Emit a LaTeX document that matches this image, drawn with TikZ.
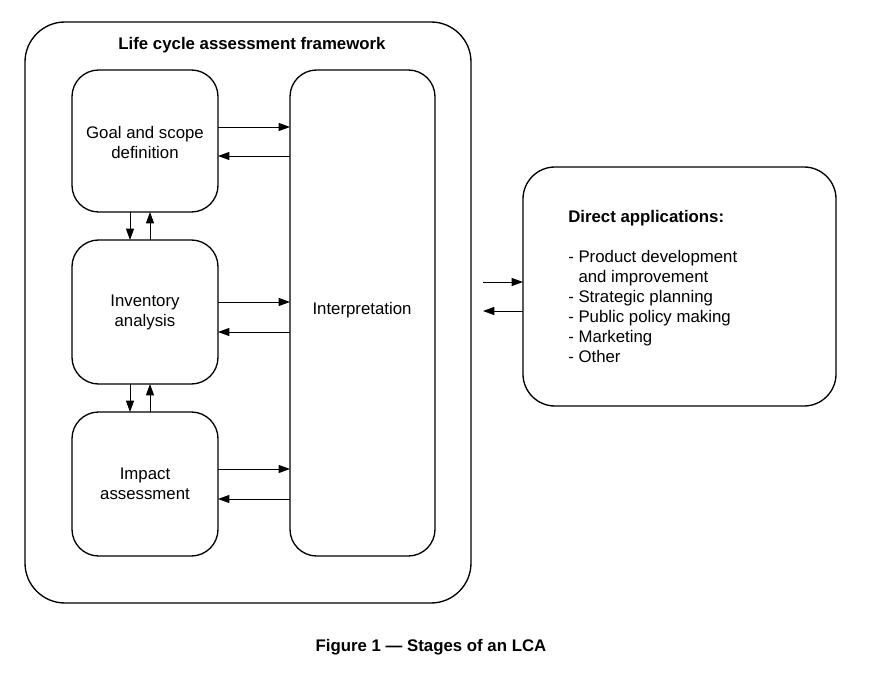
\documentclass[tikz,border=0pt]{standalone}
\usepackage{fontspec}
\setmainfont{Liberation Sans}
\usetikzlibrary{arrows.meta}
\begin{document}
\begin{tikzpicture}[x=0.75pt,y=-0.75pt,
  frame/.style={draw,line width=1pt,rounded corners=30pt},
  stage/.style={draw,line width=1pt,rounded corners=20pt},
  lbl/.style={font=\fontsize{12.6}{15}\selectfont,align=center},
  arr/.style={-{Triangle[length=8.5pt,width=6pt]},line width=0.7pt}]
\useasboundingbox (0,0) rectangle (872,681);
\draw[frame] (25,22) rectangle (471,603);
\node[lbl,font=\fontsize{12.6}{15}\selectfont\bfseries] (title) at (252,45) {Life cycle assessment framework};
\draw[stage] (72,70) rectangle (218,212);
\draw[stage] (72,240) rectangle (218,384);
\draw[stage] (72,412) rectangle (218,556);
\draw[stage] (290,70) rectangle (435,556);
\draw[frame,rounded corners=24pt] (523,167) rectangle (836,406);
\node[lbl] (goal) at (145,142) {Goal and scope\\definition};
\node[lbl] (inv) at (145,312) {Inventory\\analysis};
\node[lbl] (imp) at (145,484) {Impact\\assessment};
\node[lbl] (interp) at (362,310) {Interpretation};
\node[lbl,align=left,anchor=north west,inner sep=0pt] (app) at (568,210.5)
  {\textbf{Direct applications:}\\\mbox{}\\- Product development\\\phantom{- }and improvement\\- Strategic planning\\- Public policy making\\- Marketing\\- Other};
\coordinate (g1) at (218,127); \coordinate (i1) at (290,127);
\coordinate (g2) at (218,156); \coordinate (i2) at (290,156);
\coordinate (v1) at (218,302); \coordinate (j1) at (290,302);
\coordinate (v2) at (218,332); \coordinate (j2) at (290,332);
\coordinate (m1) at (218,469); \coordinate (k1) at (290,469);
\coordinate (m2) at (218,499); \coordinate (k2) at (290,499);
\draw[arr] (g1) -- (i1);
\draw[arr] (i2) -- (g2);
\draw[arr] (v1) -- (j1);
\draw[arr] (j2) -- (v2);
\draw[arr] (m1) -- (k1);
\draw[arr] (k2) -- (m2);
\coordinate (a1) at (130,212); \coordinate (b1) at (130,240);
\coordinate (a2) at (150,240); \coordinate (b2) at (150,212);
\coordinate (a3) at (130,384); \coordinate (b3) at (130,412);
\coordinate (a4) at (150,412); \coordinate (b4) at (150,384);
\draw[arr] (a1) -- (b1);
\draw[arr] (a2) -- (b2);
\draw[arr] (a3) -- (b3);
\draw[arr] (a4) -- (b4);
\coordinate (p1) at (483,282); \coordinate (q1) at (523,282);
\coordinate (p2) at (483,311); \coordinate (q2) at (523,311);
\draw[arr] (p1) -- (q1);
\draw[arr] (q2) -- (p2);
\node[font=\fontsize{12.6}{15}\selectfont\bfseries] (cap) at (431,647) {Figure 1 — Stages of an LCA};
\end{tikzpicture}
\end{document}
